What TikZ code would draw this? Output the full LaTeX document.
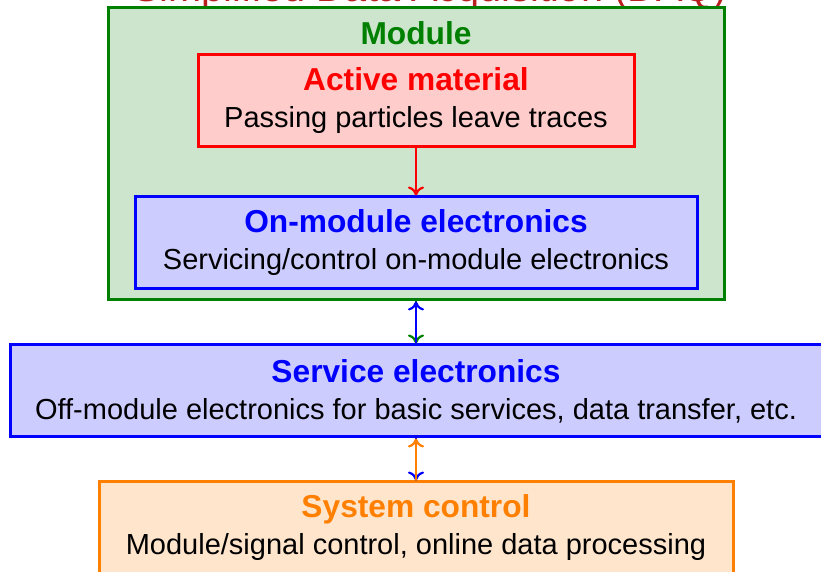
\documentclass[tikz,border=0pt]{standalone}
\usepackage{fontspec}
\setmainfont{Liberation Sans}
\usetikzlibrary{arrows.meta}
\definecolor{modgreen}{rgb}{0,0.5,0}
\definecolor{daqred}{rgb}{0.72,0.12,0.12}
\newcommand{\boxtitle}{\fontsize{15.85}{18}\selectfont\bfseries}
\tikzset{
    blockbox/.style={draw, line width=1.5pt, minimum height=46pt, inner sep=0pt,
        align=center, font=\fontsize{14.5}{18.5}\selectfont},
    link/.style={-{To[length=4.5pt, width=8pt]}, line width=1.1pt}
}
\begin{document}
\begin{tikzpicture}[x=0.5pt, y=-0.5pt]

    % Frame size
    \useasboundingbox (0,0) rectangle (821,572);

    % Heading (cut at the top)
    \node[anchor=base, text=daqred, font=\fontsize{19.85}{22}\selectfont] (heading) at (430,2)
        {Simplified Data Acquisition (DAQ)};

    % Module
    \node[blockbox, draw=modgreen, fill=modgreen!20, minimum width=308pt, minimum height=146pt]
        (module) at (416,154) {};
    \node[text=modgreen, font=\fontsize{15.85}{18}\selectfont\bfseries] (modtitle) at (416,33) {Module};

    \node[blockbox, draw=red, fill=red!20, minimum width=218pt] (active) at (416,101)
        {{\boxtitle\color{red}Active material}\\Passing particles leave traces};
    \node[blockbox, draw=blue, fill=blue!20, minimum width=281pt] (onmod) at (416,243)
        {{\boxtitle\color{blue}On-module electronics}\\Servicing/control on-module electronics};

    % Off-module parts
    \node[blockbox, draw=blue, fill=blue!20, minimum width=406pt] (service) at (416,391)
        {{\boxtitle\color{blue}Service electronics}\\Off-module electronics for basic services, data transfer, etc.};
    \node[blockbox, draw=orange, fill=orange!20, minimum width=317pt] (system) at (416,528)
        {{\boxtitle\color{orange}System control}\\Module/signal control, online data processing};

    % Arrows
    \draw[link, red] (active) -- (onmod);
    \draw[link, modgreen] (module) -- (service);
    \draw[link, blue] (service) -- (module);
    \draw[link, blue] (service) -- (system);
    \draw[link, orange] (system) -- (service);

\end{tikzpicture}
\end{document}
